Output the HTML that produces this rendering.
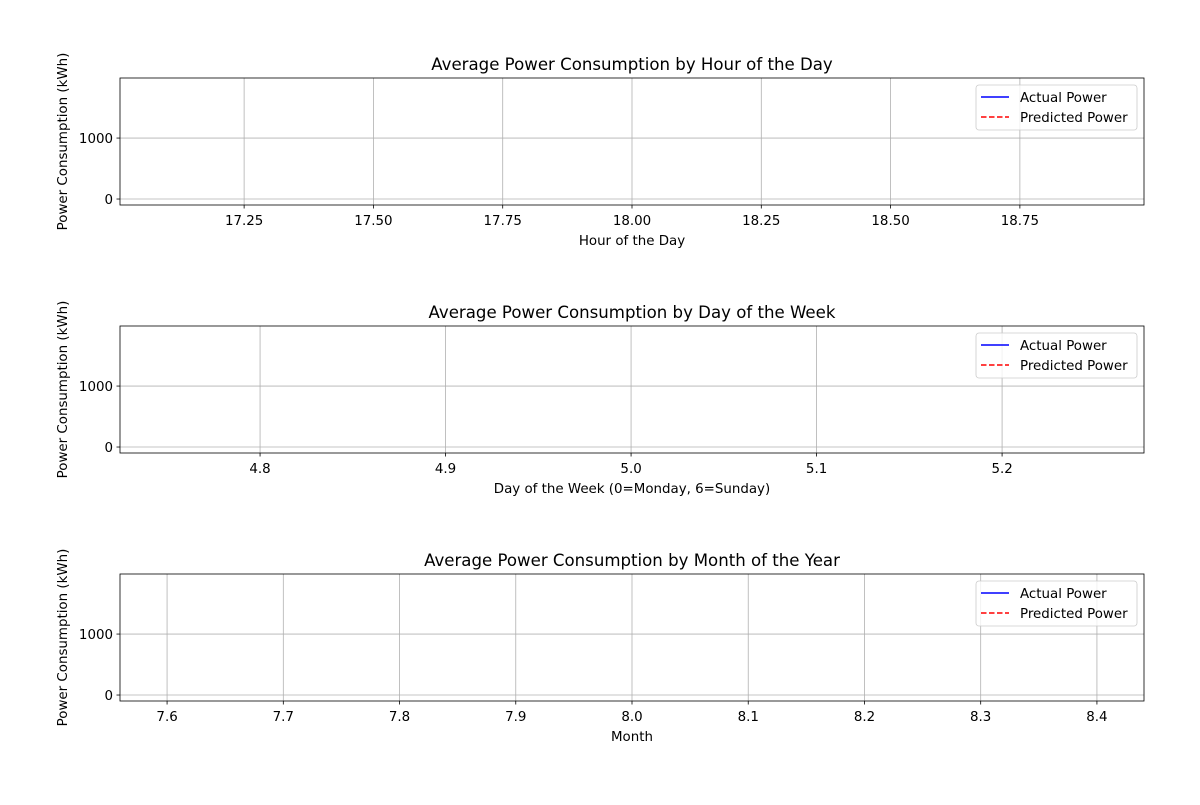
<!DOCTYPE html>
<html><head><meta charset="utf-8"><style>
body{margin:0;background:#fff;}
svg text{font-family:"DejaVu Sans","Liberation Sans",sans-serif;fill:#000;}
</style></head><body>
<svg id="c" width="1200" height="800" xmlns="http://www.w3.org/2000/svg"></svg>
<script>
const hourCats=[18];
const hourActual=[940];
const hourPred=[940];
const dayCats=[5];
const dayActual=[940];
const dayPred=[940];
const monthCats=[8];
const monthActual=[940];
const monthPred=[940];
const hourTicks=[17.25,17.5,17.75,18.0,18.25,18.5,18.75];
const hourTickLabels=["17.25","17.50","17.75","18.00","18.25","18.50","18.75"];
const dayTicks=[4.8,4.9,5.0,5.1,5.2];
const dayTickLabels=["4.8","4.9","5.0","5.1","5.2"];
const monthTicks=[7.6,7.7,7.8,7.9,8.0,8.1,8.2,8.3,8.4];
const monthTickLabels=["7.6","7.7","7.8","7.9","8.0","8.1","8.2","8.3","8.4"];
const yTicks=[0,1000];
const yTickLabels=["0","1000"];

const svg=document.getElementById('c');
const NS='http://www.w3.org/2000/svg';
function mk(tag,attrs,parent){const e=document.createElementNS(NS,tag);for(const k in attrs)e.setAttribute(k,attrs[k]);(parent||svg).appendChild(e);return e;}
const L=120,R=1144;
const FS=13.4;
const panels=[
 {top:78,title:"Average Power Consumption by Hour of the Day",xl:"Hour of the Day",xmin:17.01,xmax:18.99,cats:hourCats,a:hourActual,p:hourPred,ticks:hourTicks,tl:hourTickLabels,name:"hour"},
 {top:326,title:"Average Power Consumption by Day of the Week",xl:"Day of the Week (0=Monday, 6=Sunday)",xmin:4.7245,xmax:5.2765,cats:dayCats,a:dayActual,p:dayPred,ticks:dayTicks,tl:dayTickLabels,name:"day"},
 {top:574,title:"Average Power Consumption by Month of the Year",xl:"Month",xmin:7.5595,xmax:8.4405,cats:monthCats,a:monthActual,p:monthPred,ticks:monthTicks,tl:monthTickLabels,name:"month"}
];
const ymin=-98,ymax=1985,H=127;
panels.forEach(pn=>{
 const g=mk('g',{});
 
 
 const bot=pn.top+H;
 const xs=v=>L+(v-pn.xmin)/(pn.xmax-pn.xmin)*(R-L);
 const ys=v=>bot-(v-ymin)/(ymax-ymin)*H;
 pn.ticks.forEach((t,i)=>{
  const x=xs(t);
  const gl=mk('line',{x1:x,x2:x,y1:pn.top,y2:bot,stroke:'#b0b0b0','stroke-width':0.8},g);
  
  
  mk('line',{x1:x,x2:x,y1:bot,y2:bot+3.5,stroke:'#000','stroke-width':0.8},g);
  const tx=mk('text',{x:x,y:bot+20,'font-size':FS,'text-anchor':'middle'},g);
  tx.textContent=pn.tl[i];
  
  
 });
 yTicks.forEach((t,i)=>{
  const y=ys(t);
  const gl=mk('line',{x1:L,x2:R,y1:y,y2:y,stroke:'#b0b0b0','stroke-width':0.8},g);
  
  
  mk('line',{x1:L-3.5,x2:L,y1:y,y2:y,stroke:'#000','stroke-width':0.8},g);
  const tx=mk('text',{x:L-7,y:y+5,'font-size':FS,'text-anchor':'end'},g);
  tx.textContent=yTickLabels[i];
  
  
 });
 const pa=pn.cats.map((c,i)=>xs(c)+','+ys(pn.a[i])).join(' ');
 const la=mk('polyline',{points:pa,fill:'none',stroke:'#0000ff','stroke-width':1.5},g);
 
 
 const pp=pn.cats.map((c,i)=>xs(c)+','+ys(pn.p[i])).join(' ');
 const lp=mk('polyline',{points:pp,fill:'none',stroke:'#ff0000','stroke-width':1.5,'stroke-dasharray':'5.5,2.5'},g);
 
 
 const fr=mk('rect',{x:L,y:pn.top,width:R-L,height:H,fill:'none',stroke:'#000','stroke-width':0.8},g);
 
 
 const ti=mk('text',{x:(L+R)/2,y:pn.top-8,'font-size':16.6,'text-anchor':'middle'},g);
 ti.textContent=pn.title;
 
 
 const xl=mk('text',{x:(L+R)/2,y:bot+40,'font-size':FS,'text-anchor':'middle'},g);
 xl.textContent=pn.xl;
 
 
 const cy=pn.top+H/2;
 const yl=mk('text',{x:67,y:cy,'font-size':FS,'text-anchor':'middle',transform:'rotate(-90 67 '+cy+')'},g);
 yl.textContent='Power Consumption (kWh)';
 
 
 const lg=mk('g',{},g);
 
 
 mk('rect',{x:976,y:pn.top+7,width:161,height:45,rx:3,fill:'#fff','fill-opacity':0.8,stroke:'#ccc','stroke-width':0.8},lg);
 mk('line',{x1:981,x2:1009,y1:pn.top+19,y2:pn.top+19,stroke:'#0000ff','stroke-width':1.5},lg);
 const t1=mk('text',{x:1020,y:pn.top+24,'font-size':FS},lg);t1.textContent='Actual Power';
 
 
 mk('line',{x1:981,x2:1009,y1:pn.top+39,y2:pn.top+39,stroke:'#ff0000','stroke-width':1.5,'stroke-dasharray':'5.5,2.5'},lg);
 const t2=mk('text',{x:1020,y:pn.top+44,'font-size':FS},lg);t2.textContent='Predicted Power';
 
 
});
</script>
</body></html>
